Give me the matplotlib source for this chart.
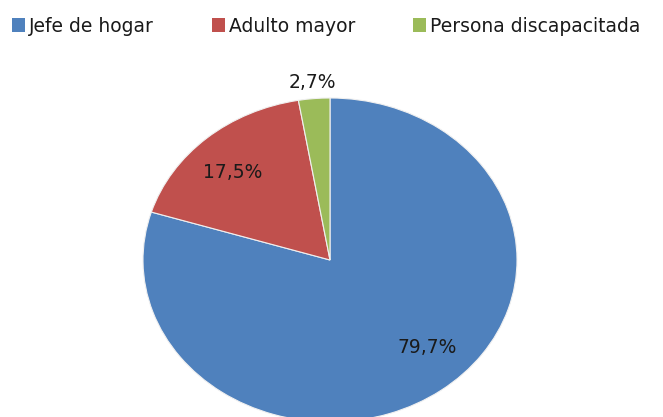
import matplotlib.pyplot as plt
import numpy as np

plt.rcParams['font.family'] = ['DejaVu Sans']

# datos del gráfico
categorias = ['Jefe de hogar', 'Adulto mayor', 'Persona discapacitada']
porcentajes = [79.7, 17.5, 2.7]
colores = ['#4F81BD', '#C0504D', '#9BBB59']

# posición de etiquetas (distancia radial, desplazamiento angular en grados)
dist_etiquetas = [0.75, 0.75, 1.1]
desp_etiquetas = [7.5, 2.5, 0.0]

W, H = 663, 417
fig = plt.figure(figsize=(W / 100, H / 100), dpi=100)

# elipse: centro (330, 260), radios 187 x 162 (px)
cx, cy, rx, ry = 330, 260, 187, 162
ax = fig.add_axes([(cx - rx) / W, (H - cy - ry) / H, 2 * rx / W, 2 * ry / H])

wedges, _ = ax.pie(porcentajes, colors=colores, startangle=90, counterclock=False,
                   wedgeprops=dict(linewidth=0.8, edgecolor='#f0f0f0'))
ax.set_aspect('auto')
ax.set_xlim(-1, 1)
ax.set_ylim(-1, 1)
ax.axis('off')

for w, d, off, p in zip(wedges, dist_etiquetas, desp_etiquetas, porcentajes):
    ang = np.deg2rad((w.theta1 + w.theta2) / 2 + off)
    ax.text(d * np.cos(ang), d * np.sin(ang), f'{p:.1f}%'.replace('.', ','),
            ha='center', va='center', fontsize=13.5, color='#1a1a1a', clip_on=False)

handles = [plt.Rectangle((0, 0), 1, 1, facecolor=c) for c in colores]
fig.legend(handles, categorias, loc='center left', bbox_to_anchor=(12 / W, 1 - 26 / H),
           ncol=3, frameon=False, fontsize=13.5, handlelength=0.7, handleheight=0.7,
           handletextpad=0.2, columnspacing=3.1, borderaxespad=0, borderpad=0,
           labelcolor='#1a1a1a')

fig.savefig('out.png', dpi=100)
